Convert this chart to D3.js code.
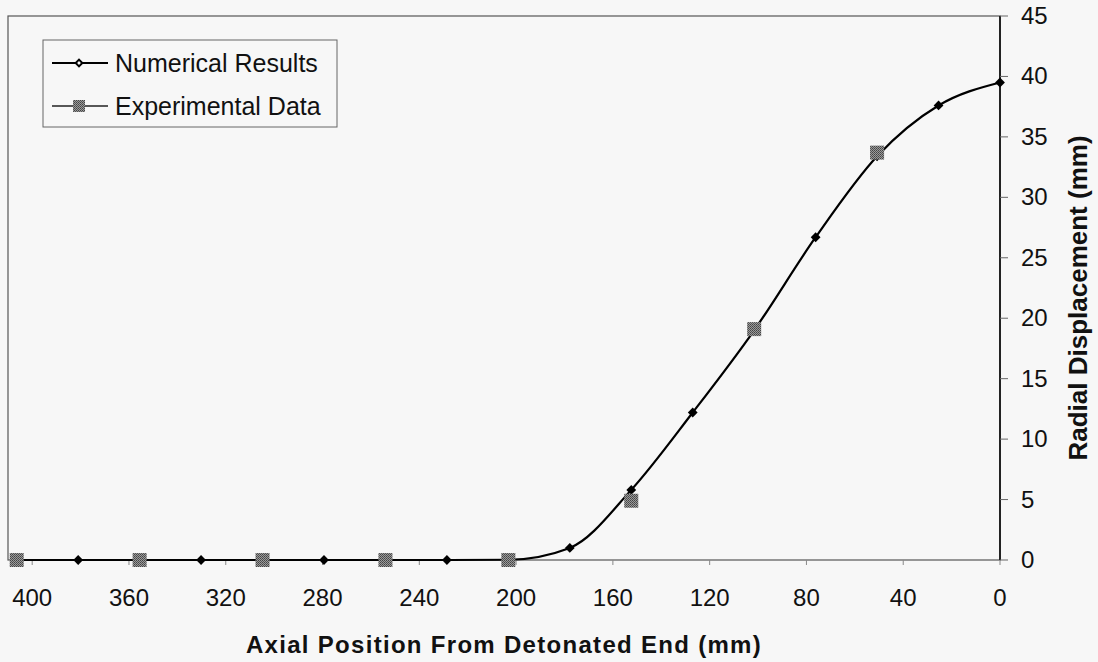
<!DOCTYPE html>
<meta charset="utf-8">
<head lang="en">
    <title>Radial Displacement</title>
    <script src="https://cdn.jsdelivr.net/npm/d3@7/dist/d3.min.js"></script>
    <style type="text/css">
        body {
            margin: 0;
            background: #f7f7f7;
        }
        svg {
            font-family: "Liberation Sans", Arial, sans-serif;
        }
        .num-line {
            fill: none;
            stroke: #000;
            stroke-width: 2.2;
        }
        .tick-label {
            font-size: 24px;
            fill: #111;
        }
    </style>
</head>
<body>
<script type="text/javascript">

    // numerical results (axial position mm, radial displacement mm)
    var numX = [406.4, 381, 355.6, 330.2, 304.8, 279.4, 254, 228.6, 203.2, 177.8, 152.4, 127, 101.6, 76.2, 50.8, 25.4, 0];
    var numY = [0, 0, 0, 0, 0, 0, 0, 0, 0.02, 1.0, 5.8, 12.2, 19.0, 26.7, 33.4, 37.6, 39.5];

    // experimental data
    var expX = [406.4, 355.6, 304.8, 254, 203.2, 152.4, 101.6, 50.8];
    var expY = [0, 0, 0, 0, 0, 4.9, 19.1, 33.7];

    var xTicks = [400, 360, 320, 280, 240, 200, 160, 120, 80, 40, 0];
    var yTicks = [0, 5, 10, 15, 20, 25, 30, 35, 40, 45];

    var width = 1098;
    var height = 662;
    var plot = {left: 8, right: 1000, top: 16, bottom: 560};

    var svg = d3.select("body")
        .append("svg")
        .attr("width", width)
        .attr("height", height);

    svg.append("rect")
        .attr("width", width)
        .attr("height", height)
        .attr("fill", "#f7f7f7");

    // halftone look for the experimental squares
    var pat = svg.append("defs").append("pattern")
        .attr("id", "halftone")
        .attr("width", 2)
        .attr("height", 2)
        .attr("patternUnits", "userSpaceOnUse");
    pat.append("rect").attr("width", 2).attr("height", 2).attr("fill", "#9a9a9a");
    pat.append("rect").attr("width", 1).attr("height", 1).attr("fill", "#444");
    pat.append("rect").attr("x", 1).attr("y", 1).attr("width", 1).attr("height", 1).attr("fill", "#555");

    var xScale = d3.scaleLinear()
        .domain([410, 0])
        .range([plot.left, plot.right]);
    var yScale = d3.scaleLinear()
        .domain([0, 45])
        .range([plot.bottom, plot.top]);

    // plot frame
    svg.append("rect")
        .attr("x", plot.left)
        .attr("y", plot.top)
        .attr("width", plot.right - plot.left)
        .attr("height", plot.bottom - plot.top)
        .attr("fill", "none")
        .attr("stroke", "#555")
        .attr("stroke-width", 1.2);

    // right axis line
    svg.append("line")
        .attr("x1", plot.right).attr("x2", plot.right)
        .attr("y1", plot.top).attr("y2", plot.bottom)
        .attr("stroke", "#222")
        .attr("stroke-width", 2);

    // x ticks
    svg.selectAll(".xtick")
        .data(xTicks)
        .enter()
        .append("line")
        .attr("x1", function (d) { return xScale(d); })
        .attr("x2", function (d) { return xScale(d); })
        .attr("y1", plot.bottom)
        .attr("y2", plot.bottom + 5)
        .attr("stroke", "#888")
        .attr("stroke-width", 1);

    svg.selectAll(".xlabel")
        .data(xTicks)
        .enter()
        .append("text")
        .attr("class", "tick-label")
        .attr("x", function (d) { return xScale(d); })
        .attr("y", 606)
        .attr("text-anchor", "middle")
        .text(function (d) { return d; });

    // y ticks on the right
    svg.selectAll(".ytick")
        .data(yTicks)
        .enter()
        .append("line")
        .attr("x1", plot.right)
        .attr("x2", plot.right + 8)
        .attr("y1", function (d) { return yScale(d); })
        .attr("y2", function (d) { return yScale(d); })
        .attr("stroke", "#666")
        .attr("stroke-width", 1);

    svg.selectAll(".ylabel")
        .data(yTicks)
        .enter()
        .append("text")
        .attr("class", "tick-label")
        .attr("x", 1021)
        .attr("y", function (d) { return yScale(d) + 8; })
        .attr("text-anchor", "start")
        .text(function (d) { return d; });

    // axis titles
    svg.append("text")
        .attr("x", 504)
        .attr("y", 653)
        .attr("text-anchor", "middle")
        .attr("font-size", "24px")
        .attr("font-weight", "bold")
        .attr("letter-spacing", "1.3px")
        .attr("fill", "#111")
        .text("Axial Position From Detonated End (mm)");

    svg.append("text")
        .attr("transform", "translate(1087," + 298 + ") rotate(-90)")
        .attr("text-anchor", "middle")
        .attr("font-size", "26px")
        .attr("font-weight", "bold")
        .attr("fill", "#111")
        .text("Radial Displacement (mm)");

    // series
    var numData = numX.map(function (x, i) { return {x: x, y: numY[i]}; });
    var expData = expX.map(function (x, i) { return {x: x, y: expY[i]}; });

    var numLine = d3.line()
        .x(function (d) { return xScale(d.x); })
        .y(function (d) { return yScale(d.y); })
        .curve(d3.curveMonotoneX);

    svg.append("path")
        .datum(numData)
        .attr("class", "num-line")
        .attr("d", numLine);

    var diamond = d3.symbol().type(d3.symbolSquare).size(48);
    svg.selectAll(".dia")
        .data(numData)
        .enter()
        .append("path")
        .attr("d", diamond)
        .attr("transform", function (d) {
            return "translate(" + xScale(d.x) + "," + yScale(d.y) + ") rotate(45)";
        })
        .attr("fill", "#000");

    var sq = 14;
    svg.selectAll(".sq")
        .data(expData)
        .enter()
        .append("rect")
        .attr("x", function (d) { return xScale(d.x) - sq / 2; })
        .attr("y", function (d) { return yScale(d.y) - sq / 2; })
        .attr("width", sq)
        .attr("height", sq)
        .attr("fill", "url(#halftone)");

    // legend
    var legend = svg.append("g");
    legend.append("rect")
        .attr("x", 43)
        .attr("y", 40)
        .attr("width", 294)
        .attr("height", 87)
        .attr("fill", "#f7f7f7")
        .attr("stroke", "#666")
        .attr("stroke-width", 1);

    legend.append("line")
        .attr("x1", 52).attr("x2", 108)
        .attr("y1", 63).attr("y2", 63)
        .attr("stroke", "#000").attr("stroke-width", 2);
    legend.append("path")
        .attr("d", d3.symbol().type(d3.symbolSquare).size(22))
        .attr("transform", "translate(79,63) rotate(45)")
        .attr("fill", "#f7f7f7")
        .attr("stroke", "#000")
        .attr("stroke-width", 2);
    legend.append("text")
        .attr("x", 115)
        .attr("y", 72)
        .attr("font-size", "25px")
        .attr("fill", "#111")
        .text("Numerical Results");

    legend.append("line")
        .attr("x1", 52).attr("x2", 108)
        .attr("y1", 106).attr("y2", 106)
        .attr("stroke", "#222").attr("stroke-width", 1.5);
    legend.append("rect")
        .attr("x", 73).attr("y", 100)
        .attr("width", 12).attr("height", 12)
        .attr("fill", "url(#halftone)");
    legend.append("text")
        .attr("x", 115)
        .attr("y", 115)
        .attr("font-size", "25px")
        .attr("fill", "#111")
        .text("Experimental Data");

</script>
</body>
